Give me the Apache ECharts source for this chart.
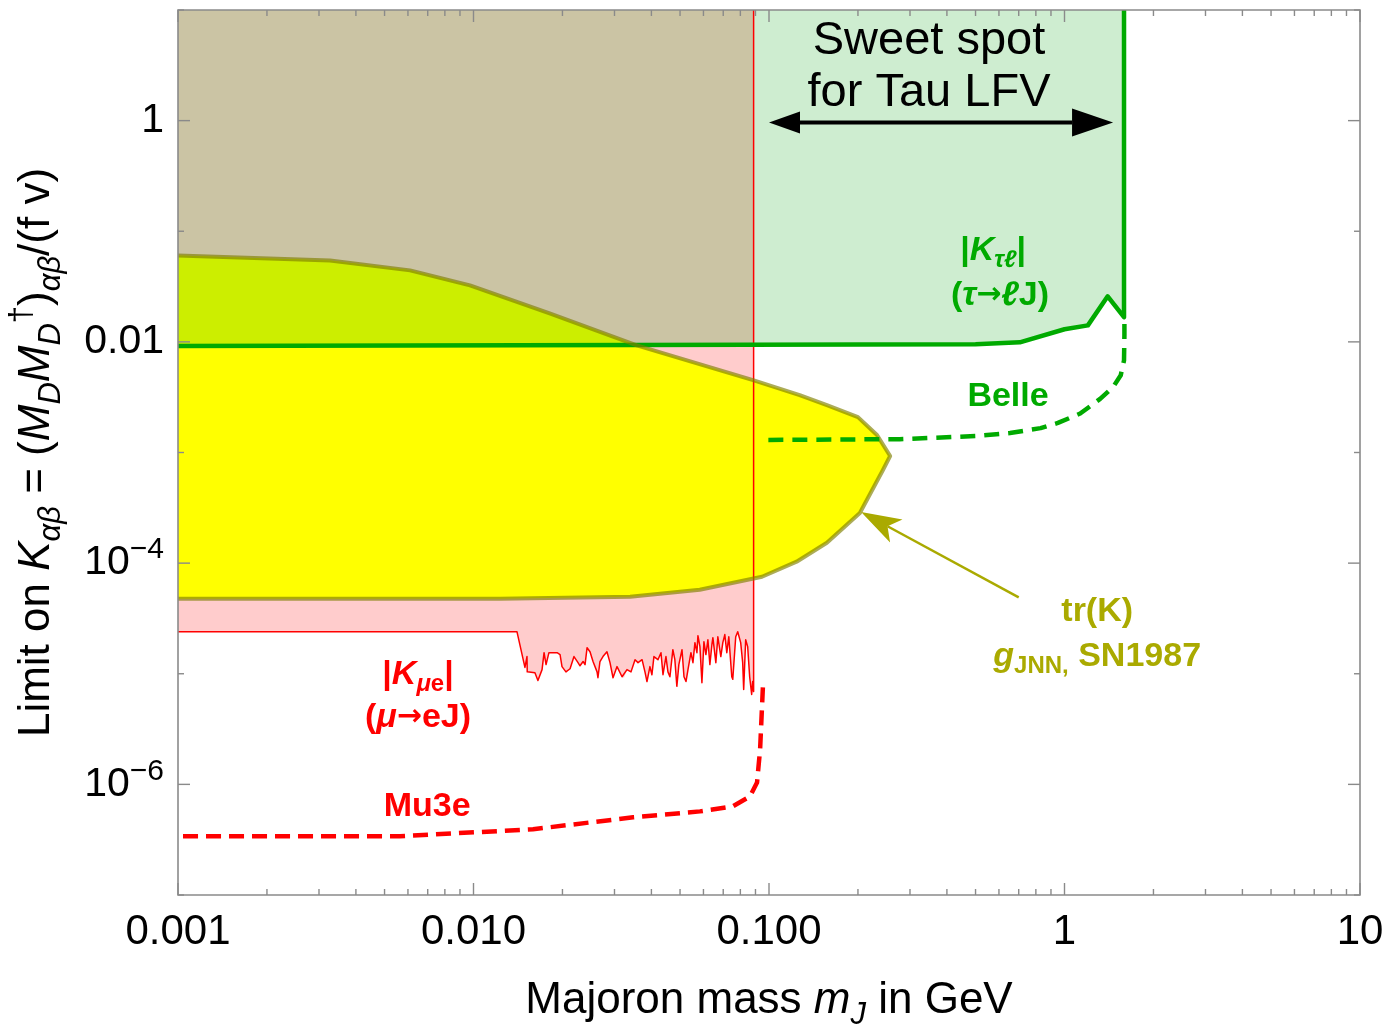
<!DOCTYPE html>
<html>
<head>
<meta charset="utf-8">
<script src="https://cdn.jsdelivr.net/npm/echarts@6/dist/echarts.min.js"></script>
<style>
  html, body { margin: 0; padding: 0; background: #fff; }
  #chart { width: 1388px; height: 1026px; }
</style>
</head>
<body>
<div id="chart"></div>
<script>
// axis ranges (GeV on x, K on y)
const X_MIN = 0.001, X_MAX = 10, Y_MIN = 1e-7, Y_MAX = 10;

// |K_tau l| limit (tau -> l J), solid green, excluded above
const tauX = [0.001, 0.5, 0.706, 1.0, 1.2, 1.4, 1.59, 1.59];
const tauY = [0.0092, 0.0095, 0.0099, 0.0130, 0.0141, 0.0258, 0.0167, 10];

// Belle projection, dashed green
const belleX = [0.0995, 0.277, 0.5, 0.654, 0.83, 0.95, 1.13, 1.32, 1.46, 1.55, 1.59, 1.595, 1.595];
const belleY = [0.0013, 0.00132, 0.00141, 0.0015, 0.00166, 0.00185, 0.00225, 0.00305, 0.0039, 0.005, 0.0068, 0.0115, 0.0167];

// |K_mu e| limit (mu -> e J), red, excluded above
const kmueX = [0.001, 0.01403, 0.01493, 0.01517, 0.0152, 0.01614, 0.01652, 0.01706, 0.01733, 0.01760,
  0.01800, 0.01918, 0.01963, 0.01993, 0.02055, 0.02122, 0.02188, 0.02258, 0.02293, 0.02349,
  0.02385, 0.02423, 0.02479, 0.02538, 0.02619, 0.02637, 0.02679, 0.02742, 0.02829, 0.02897,
  0.02966, 0.03060, 0.03182, 0.03231, 0.03307, 0.03412, 0.03521, 0.03604, 0.03719, 0.03804,
  0.03864, 0.03954, 0.04016, 0.04079, 0.04209, 0.04310, 0.04378, 0.04480, 0.04550, 0.04621,
  0.04728, 0.04802, 0.04877, 0.04954, 0.05077, 0.05156, 0.05237, 0.05319, 0.05443, 0.05529,
  0.05615, 0.05703, 0.05748, 0.05838, 0.05929, 0.06022, 0.06116, 0.06212, 0.06309, 0.06408,
  0.06458, 0.06609, 0.06713, 0.06870, 0.06978, 0.07087, 0.07198, 0.07311, 0.07482, 0.07540,
  0.07716, 0.07837, 0.08020, 0.08146, 0.08209, 0.08338, 0.08469, 0.08601, 0.08736, 0.08804,
  0.0887, 0.0887];
const kmueY = [2.40e-5, 2.40e-5, 1.14e-5, 1.43e-5, 1.04e-5, 1.02e-5, 8.7e-6, 1.09e-5, 1.55e-5, 1.21e-5,
  1.55e-5, 1.55e-5, 1.49e-5, 1.16e-5, 1.04e-5, 1.11e-5, 1.43e-5, 1.26e-5, 1.18e-5, 1.29e-5,
  1.21e-5, 1.72e-5, 1.58e-5, 1.29e-5, 1.04e-5, 9.2e-6, 1.29e-5, 1.43e-5, 1.58e-5, 1.26e-5,
  9.2e-6, 1.16e-5, 9.4e-6, 9.2e-6, 1.09e-5, 1.04e-5, 1.34e-5, 1.26e-5, 1.34e-5, 1.04e-5,
  8.5e-6, 1.16e-5, 9.8e-6, 1.43e-5, 1.34e-5, 1.55e-5, 9.8e-6, 1.43e-5, 1.04e-5, 9.4e-6,
  1.65e-5, 1.34e-5, 7.7e-6, 1.21e-5, 1.65e-5, 9.4e-6, 8.5e-6, 1.09e-5, 1.55e-5, 1.26e-5,
  1.91e-5, 1.55e-5, 2.21e-5, 1.76e-5, 8.3e-6, 1.95e-5, 1.49e-5, 2.03e-5, 1.21e-5, 1.83e-5,
  2.12e-5, 1.26e-5, 2.16e-5, 1.43e-5, 1.91e-5, 2.26e-5, 1.55e-5, 2.16e-5, 9.4e-6, 8.9e-6,
  2.16e-5, 2.40e-5, 1.91e-5, 1.26e-5, 7.2e-6, 2.03e-5, 1.76e-5, 9.4e-6, 6.5e-6, 8.5e-6,
  6.9e-6, 10];

// Mu3e projection, dashed red
const mu3eX = [0.00104, 0.00564, 0.0159, 0.0347, 0.0584, 0.0755, 0.0862, 0.0911, 0.0933, 0.0955];
const mu3eY = [3.4e-7, 3.4e-7, 3.93e-7, 5.04e-7, 5.70e-7, 6.33e-7, 7.79e-7, 1.04e-6, 2.07e-6, 8.3e-6];

// tr(K) from g_JNN, SN1987 (closed contour, yellow)
const yelX = [0.001, 0.00327, 0.0061, 0.00973, 0.0181, 0.0357, 0.0883, 0.127, 0.157, 0.200, 0.232,
  0.257, 0.243, 0.203, 0.157, 0.124, 0.0947, 0.0583, 0.0339, 0.0123, 0.001];
const yelY = [0.0605, 0.0545, 0.0443, 0.0324, 0.0181, 0.0093, 0.00451, 0.0033, 0.00268, 0.00209, 0.00144,
  0.00093, 0.000695, 0.000284, 0.000153, 0.000103, 0.0000753, 0.0000575, 0.0000497, 0.0000476, 0.0000476];
const yelCross = 5; // index where the contour meets the tau line

// tick values / labels
const xMajor = [0.001, 0.01, 0.1, 1, 10];
const xLabelText = ['0.001', '0.010', '0.100', '1', '10'];
const yLabeled = [1e-6, 1e-4, 0.01, 1];
const yLabelText = ['{b|10}{s|\u22126}', '{b|10}{s|\u22124}', '0.01', '1'];
const yPlain = [1e-7, 1e-5, 1e-3, 0.1, 10];
const xMinor = [];
[0.001, 0.01, 0.1, 1].forEach(d => { for (let m = 2; m <= 9; m++) xMinor.push(+(m * d).toPrecision(3)); });

const FONT = 'Liberation Sans, Arial, Helvetica, sans-serif';
const GREEN = '#00aa00', RED = '#ff0000', OLIVE = '#aaaa00';

const pairs = (xs, ys) => xs.map((x, i) => [x, ys[i]]);

// filled region drawn through the axes' scales
function fillSeries(pts, color, z) {
  return {
    type: 'custom', coordinateSystem: 'cartesian2d', z: z, silent: true, clip: true,
    data: pts,
    renderItem: function (params, api) {
      if (params.dataIndex !== 0) return null;
      return {
        type: 'polygon',
        shape: { points: pts.map(p => api.coord(p)) },
        style: { fill: color, stroke: null }
      };
    }
  };
}

function lineSeries(pts, color, width, type, z) {
  return {
    type: 'line', data: pts, symbol: 'none', showSymbol: false, silent: true, z: z,
    lineStyle: { color: color, width: width, type: type, cap: 'butt', join: 'round' }
  };
}

const tauPts = pairs(tauX, tauY);
const kmuePts = pairs(kmueX, kmueY);
const yelPts = pairs(yelX, yelY);
const kmueEdge = kmueX[kmueX.length - 1];
const tanPts = [[X_MIN, tauY[0]], [kmueEdge, tauY[0]], [kmueEdge, Y_MAX], [X_MIN, Y_MAX]];
const limePts = yelPts.slice(0, yelCross + 1).concat([[X_MIN, tauY[0]]]);

// arrows: [x1, y1, x2, y2, kind]
const arrows = [
  [0.1, 0.96, 1.46, 0.96, 0],
  [0.70, 4.9e-5, 0.205, 2.9e-4, 1]
];

function head(tip, from, len, half, back) {
  const dx = from[0] - tip[0], dy = from[1] - tip[1];
  const d = Math.hypot(dx, dy), ux = dx / d, uy = dy / d, nx = -uy, ny = ux;
  const bx = tip[0] + ux * len, by = tip[1] + uy * len;
  return [tip, [bx + nx * half, by + ny * half], [tip[0] + ux * len * back, tip[1] + uy * len * back],
    [bx - nx * half, by - ny * half]];
}

// annotation texts
function labRich(color) {
  return {
    bi: { fontFamily: FONT, fontSize: 34, fontWeight: 'bold', fontStyle: 'italic', fill: color },
    ar: { fontFamily: 'DejaVu Sans', fontSize: 30, fontWeight: 'bold', fill: color },
    sub: { fontFamily: FONT, fontSize: 24, fontWeight: 'bold', fontStyle: 'italic', fill: color, lineHeight: 24, verticalAlign: 'bottom' },
    subr: { fontFamily: FONT, fontSize: 24, fontWeight: 'bold', fill: color, lineHeight: 24, verticalAlign: 'bottom' }
  };
}
const notes = [
  { pos: [0.348, 3.07], text: 'Sweet spot\nfor Tau LFV', color: '#000', size: 47, weight: 'normal', lh: 52 },
  { pos: [0.573, 0.0671], text: '|{bi|K}{sub|\u03c4\u2113}|', color: GREEN },
  { pos: [0.605, 0.0264], text: '({bi|\u03c4}{ar|\u2192}{bi|\u2113}J)', color: GREEN },
  { pos: [0.644, 0.00317], text: 'Belle', color: GREEN },
  { pos: [1.29, 3.64e-5], text: 'tr(K)', color: OLIVE },
  { pos: [1.29, 1.43e-5], text: '{bi|g}{subr|JNN,} SN1987', color: OLIVE },
  { pos: [0.00649, 9.8e-6], text: '|{bi|K}{sub|\u03bc}{subr|e}|', color: RED },
  { pos: [0.00649, 4.02e-6], text: '({bi|\u03bc}{ar|\u2192}eJ)', color: RED },
  { pos: [0.00697, 6.3e-7], text: 'Mu3e', color: RED }
];

// tick items: [x, y, kind] 0 x-major, 1 x-minor, 2 y-long, 3 y-short, 4 frame
const tickData = []
  .concat(xMajor.map(v => [v, Y_MIN, 0]))
  .concat(xMinor.map(v => [v, Y_MIN, 1]))
  .concat(yLabeled.map(v => [X_MIN, v, 2]))
  .concat(yPlain.map(v => [X_MIN, v, 3]))
  .concat([[X_MIN, Y_MIN, 4]]);

const chart = echarts.init(document.getElementById('chart'));

const titleRich = {
  i: { fontFamily: FONT, fontSize: 44, fontStyle: 'italic', color: '#000' },
  sub: { fontFamily: FONT, fontSize: 31, color: '#000', lineHeight: 31, verticalAlign: 'bottom' },
  subi: { fontFamily: FONT, fontSize: 31, fontStyle: 'italic', color: '#000', lineHeight: 31, verticalAlign: 'bottom' },
  sup: { fontFamily: FONT, fontSize: 31, color: '#000', lineHeight: 31, verticalAlign: 'top' }
};

const option = {
  animation: false,
  backgroundColor: '#ffffff',
  grid: { left: 178, right: 28, top: 10, bottom: 131, outerBoundsMode: 'none' },
  xAxis: {
    type: 'log', logBase: 10, min: X_MIN, max: X_MAX, splitNumber: 10,
    axisLine: { show: false }, axisTick: { show: false }, splitLine: { show: false },
    axisLabel: {
      fontFamily: FONT, fontSize: 42, color: '#000', margin: 16,
      formatter: v => {
        const i = xMajor.findIndex(m => Math.abs(Math.log10(m) - Math.log10(v)) < 0.01);
        return i >= 0 ? xLabelText[i] : '';
      }
    },
    name: 'Majoron mass {i|m}{subi|J} in GeV',
    nameLocation: 'middle', nameGap: 76,
    nameTextStyle: { fontFamily: FONT, fontSize: 44, color: '#000', lineHeight: 60, rich: titleRich }
  },
  yAxis: {
    type: 'log', logBase: 10, min: Y_MIN, max: Y_MAX, splitNumber: 10,
    axisLine: { show: false }, axisTick: { show: false }, splitLine: { show: false },
    axisLabel: {
      fontFamily: FONT, fontSize: 41, color: '#000', margin: 14,
      formatter: v => {
        const i = yLabeled.findIndex(m => Math.abs(Math.log10(m) - Math.log10(v)) < 0.01);
        return i >= 0 ? yLabelText[i] : '';
      },
      rich: {
        b: { fontFamily: FONT, fontSize: 41, color: '#000', lineHeight: 56 },
        s: { fontFamily: FONT, fontSize: 30, color: '#000', lineHeight: 30, verticalAlign: 'top' }
      }
    },
    name: 'Limit on {i|K}{subi|\u03b1\u03b2} = ({i|M}{subi|D}{i|M}{subi|D}{sup|\u2020}){subi|\u03b1\u03b2}/(f v)',
    nameLocation: 'middle', nameGap: 111, nameRotate: 90,
    nameTextStyle: { fontFamily: FONT, fontSize: 44, color: '#000', lineHeight: 60, rich: titleRich }
  },
  series: [
    // excluded regions
    fillSeries(tauPts.concat([[X_MIN, Y_MAX]]), '#ceedd0', 1),
    fillSeries(kmuePts.concat([[X_MIN, Y_MAX]]), '#ffcccc', 1),
    fillSeries(tanPts, '#cbc4a4', 1),
    fillSeries(yelPts, '#ffff00', 1),
    fillSeries(limePts, '#ccee00', 1),
    // boundaries
    lineSeries(kmuePts, RED, 1.5, 'solid', 3),
    lineSeries(tauPts, GREEN, 4.5, 'solid', 3),
    lineSeries(yelPts, 'rgba(128,128,0,0.65)', 4, 'solid', 3),
    lineSeries(pairs(belleX, belleY), GREEN, 4.5, [15, 9], 3),
    lineSeries(pairs(mu3eX, mu3eY), RED, 4.5, [15, 8], 3),
    // arrows
    {
      type: 'custom', coordinateSystem: 'cartesian2d', z: 4, silent: true, clip: false,
      data: arrows, encode: { x: [0, 2], y: [1, 3] },
      renderItem: function (params, api) {
        const a = arrows[params.dataIndex];
        const p1 = api.coord([a[0], a[1]]), p2 = api.coord([a[2], a[3]]);
        if (a[4] === 0) {
          const h1 = head(p1, p2, 31, 11, 1), h2 = head(p2, p1, 41, 14, 1);
          return {
            type: 'group', children: [
              { type: 'line', shape: { x1: h1[2][0], y1: h1[2][1], x2: h2[2][0], y2: h2[2][1] }, style: { stroke: '#000', lineWidth: 4 } },
              { type: 'polygon', shape: { points: h1 }, style: { fill: '#000' } },
              { type: 'polygon', shape: { points: h2 }, style: { fill: '#000' } }
            ]
          };
        }
        const h = head(p2, p1, 40, 13, 0.75);
        return {
          type: 'group', children: [
            { type: 'line', shape: { x1: p1[0], y1: p1[1], x2: h[2][0], y2: h[2][1] }, style: { stroke: OLIVE, lineWidth: 2.5 } },
            { type: 'polygon', shape: { points: h }, style: { fill: OLIVE } }
          ]
        };
      }
    },
    // annotation texts
    {
      type: 'custom', coordinateSystem: 'cartesian2d', z: 5, silent: true, clip: false,
      data: notes.map(n => n.pos),
      renderItem: function (params, api) {
        const n = notes[params.dataIndex];
        const p = api.coord(n.pos);
        return {
          type: 'text', x: p[0], y: p[1],
          style: {
            text: n.text, fill: n.color, fontFamily: FONT,
            fontSize: n.size || 34, fontWeight: n.weight || 'bold', lineHeight: n.lh || 44,
            align: 'center', verticalAlign: 'middle', rich: labRich(n.color)
          }
        };
      }
    },
    // frame and ticks on all four sides
    {
      type: 'custom', coordinateSystem: 'cartesian2d', z: 6, silent: true, clip: false,
      data: tickData, encode: { x: 0, y: 1 },
      renderItem: function (params, api) {
        const kind = api.value(2);
        const st = { stroke: '#8a8a8a', lineWidth: 1.4 };
        if (kind === 4) {
          const a = api.coord([X_MIN, Y_MAX]), b = api.coord([X_MAX, Y_MIN]);
          return { type: 'rect', shape: { x: a[0], y: a[1], width: b[0] - a[0], height: b[1] - a[1] }, style: { stroke: '#8a8a8a', lineWidth: 1.6, fill: null } };
        }
        if (kind <= 1) {
          const v = api.value(0), len = kind === 0 ? 12 : 6;
          const b = api.coord([v, Y_MIN]), t = api.coord([v, Y_MAX]);
          return {
            type: 'group', children: [
              { type: 'line', shape: { x1: b[0], y1: b[1], x2: b[0], y2: b[1] - len }, style: st },
              { type: 'line', shape: { x1: t[0], y1: t[1], x2: t[0], y2: t[1] + len }, style: st }
            ]
          };
        }
        const v = api.value(1), len = kind === 2 ? 12 : 6;
        const l = api.coord([X_MIN, v]), r = api.coord([X_MAX, v]);
        return {
          type: 'group', children: [
            { type: 'line', shape: { x1: l[0], y1: l[1], x2: l[0] + len, y2: l[1] }, style: st },
            { type: 'line', shape: { x1: r[0], y1: r[1], x2: r[0] - len, y2: r[1] }, style: st }
          ]
        };
      }
    }
  ]
};

chart.setOption(option);
</script>
</body>
</html>
